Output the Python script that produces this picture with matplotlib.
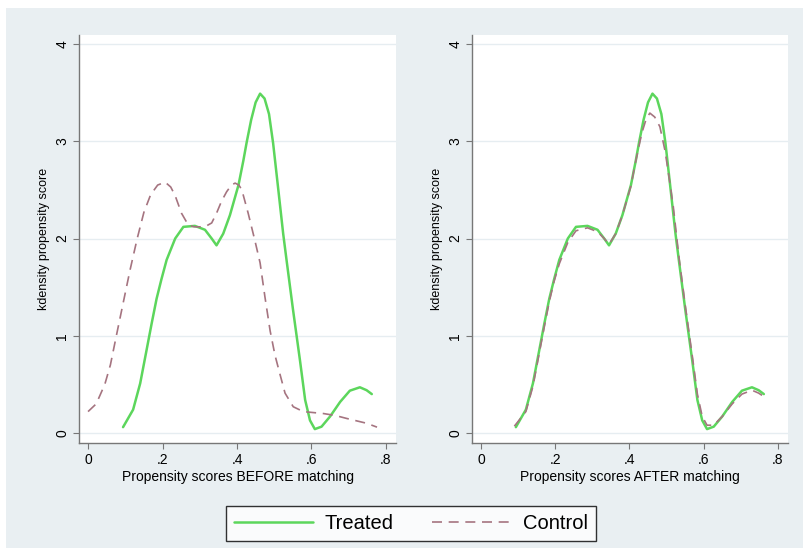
import numpy as np
import matplotlib
matplotlib.use('Agg')
import matplotlib.pyplot as plt
from matplotlib.patches import Rectangle

plt.rcParams['font.family'] = ['Liberation Sans', 'DejaVu Sans']

# kernel density of propensity score, treated group (same in both panels)
treated_x = [0.094, 0.121, 0.140, 0.157, 0.171, 0.184, 0.197, 0.211, 0.234, 0.256,
             0.287, 0.314, 0.332, 0.345, 0.363, 0.381, 0.404, 0.417, 0.426, 0.438,
             0.450, 0.462, 0.474, 0.486, 0.497, 0.511, 0.524, 0.533, 0.550, 0.569,
             0.583, 0.596, 0.609, 0.627, 0.650, 0.677, 0.703, 0.730, 0.748, 0.762]
treated_y = [0.06, 0.24, 0.51, 0.85, 1.13, 1.38, 1.58, 1.78, 2.00, 2.12,
             2.13, 2.09, 2.00, 1.93, 2.05, 2.24, 2.55, 2.80, 2.99, 3.22,
             3.40, 3.49, 3.44, 3.28, 2.98, 2.50, 2.05, 1.78, 1.28, 0.75,
             0.34, 0.13, 0.04, 0.065, 0.17, 0.32, 0.435, 0.47, 0.44, 0.40]

# control group before matching
control_before_x = [0.000, 0.022, 0.045, 0.060, 0.076, 0.095, 0.113, 0.132, 0.150, 0.168,
                    0.187, 0.207, 0.222, 0.234, 0.251, 0.269, 0.285, 0.301, 0.318, 0.332,
                    0.345, 0.358, 0.372, 0.385, 0.395, 0.405, 0.413, 0.430, 0.448, 0.462,
                    0.475, 0.489, 0.502, 0.515, 0.529, 0.551, 0.578, 0.605, 0.632, 0.664,
                    0.694, 0.748, 0.776]
control_before_y = [0.22, 0.30, 0.50, 0.70, 1.00, 1.35, 1.68, 2.00, 2.27, 2.45,
                    2.55, 2.58, 2.53, 2.44, 2.26, 2.14, 2.12, 2.12, 2.13, 2.16,
                    2.26, 2.38, 2.48, 2.55, 2.57, 2.55, 2.50, 2.26, 1.98, 1.75,
                    1.40, 1.05, 0.80, 0.61, 0.41, 0.27, 0.22, 0.21, 0.20, 0.18,
                    0.15, 0.10, 0.06]

# control group after matching
control_after_x = [0.090, 0.121, 0.140, 0.157, 0.171, 0.184, 0.197, 0.211, 0.234, 0.256,
                   0.287, 0.314, 0.332, 0.345, 0.363, 0.381, 0.404, 0.415, 0.433, 0.445,
                   0.455, 0.468, 0.482, 0.496, 0.509, 0.518, 0.533, 0.550, 0.569, 0.583,
                   0.596, 0.609, 0.627, 0.650, 0.677, 0.703, 0.730, 0.748, 0.760]
control_after_y = [0.07, 0.22, 0.48, 0.82, 1.10, 1.35, 1.56, 1.74, 1.96, 2.08,
                   2.11, 2.07, 2.00, 1.94, 2.05, 2.24, 2.54, 2.76, 3.08, 3.23,
                   3.29, 3.25, 3.15, 2.90, 2.57, 2.33, 1.82, 1.32, 0.80, 0.40,
                   0.17, 0.08, 0.08, 0.17, 0.30, 0.40, 0.44, 0.41, 0.38]

xticks = [0, 0.2, 0.4, 0.6, 0.8]
xticklabels = ['0', '.2', '.4', '.6', '.8']
yticks = [0, 1, 2, 3, 4]

green = '#5cd65c'
rose = '#a57480'
bg = '#e9eff2'

fig = plt.figure(figsize=(8.09, 5.55), dpi=100, facecolor='white')
fig.patches.append(Rectangle((0.0075, 0.013), 0.985, 0.973, transform=fig.transFigure,
                             facecolor=bg, edgecolor='none', zorder=-10))

panels = [
    ([0.0977, 0.2018, 0.3918, 0.7351], control_before_x, control_before_y,
     'Propensity scores BEFORE matching'),
    ([0.5834, 0.2018, 0.3906, 0.7351], control_after_x, control_after_y,
     'Propensity scores AFTER matching'),
]

for rect, cx, cy, xlab in panels:
    ax = fig.add_axes(rect)
    ax.set_facecolor('white')
    for y in yticks:
        ax.axhline(y, color='#e6edf1', lw=1.0, zorder=0)
    ax.plot(treated_x, treated_y, color=green, lw=1.8, label='Treated', zorder=3,
            solid_joinstyle='round', solid_capstyle='round')
    ax.plot(cx, cy, color=rose, lw=1.2, ls=(0, (6, 4)), label='Control', zorder=4,
            dash_joinstyle='round')
    ax.set_xlim(-0.0242, 0.827)
    ax.set_ylim(-0.103, 4.093)
    ax.set_xticks(xticks)
    ax.set_xticklabels(xticklabels, fontsize=10)
    ax.set_yticks(yticks)
    ax.set_yticklabels([str(v) for v in yticks], fontsize=10, rotation=90, va='center')
    ax.tick_params(direction='out', length=4, color='#777777', width=0.8, pad=3)
    for s in ['top', 'right']:
        ax.spines[s].set_visible(False)
    for s in ['left', 'bottom']:
        ax.spines[s].set_color('#777777')
        ax.spines[s].set_linewidth(1.0)
    ax.set_xlabel(xlab, fontsize=10, labelpad=2)
    ax.set_ylabel('kdensity propensity score', fontsize=9, labelpad=4)

handles, labels = ax.get_legend_handles_labels()
leg = fig.legend(handles, labels, loc='center', bbox_to_anchor=(0.508, 0.0568), ncol=2,
                 fontsize=14.5, handlelength=3.9, columnspacing=1.9, handletextpad=0.6,
                 frameon=True, fancybox=False, edgecolor='black', borderpad=0.4)
leg.get_frame().set_linewidth(1.0)

fig.savefig('out.png', dpi=100, facecolor=fig.get_facecolor())
